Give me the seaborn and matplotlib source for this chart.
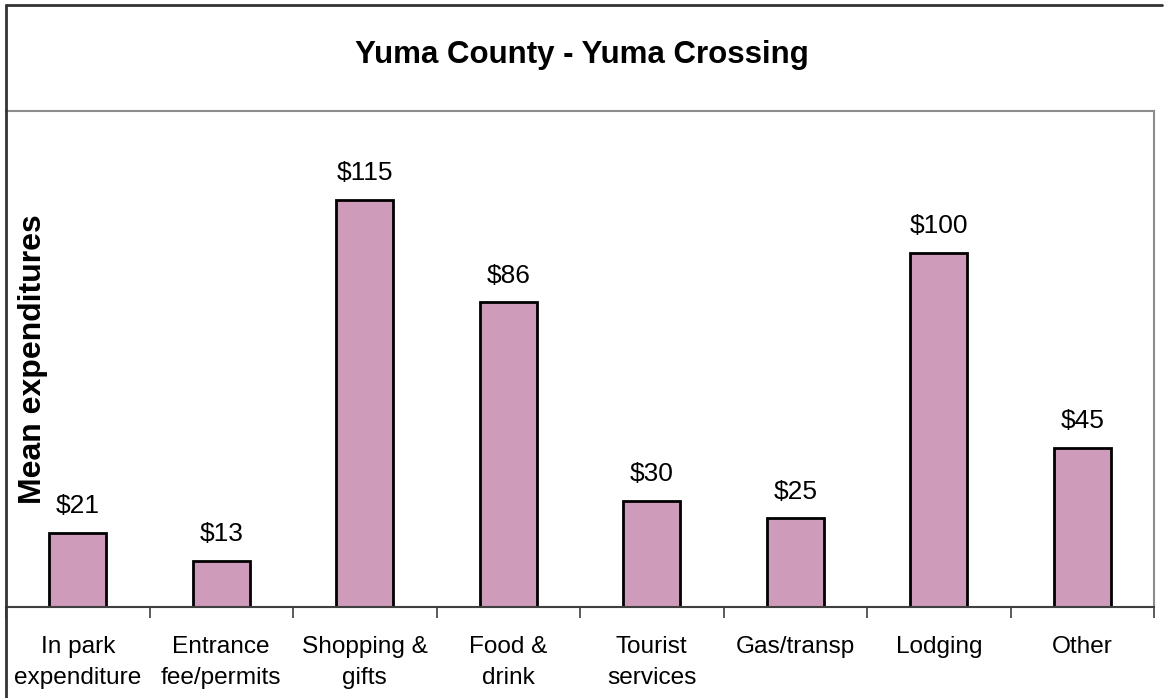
import matplotlib
matplotlib.use('Agg')
import matplotlib.pyplot as plt
from matplotlib.lines import Line2D
import seaborn as sns
import pandas as pd

# данные с картинки
categories = ['In park\nexpenditure', 'Entrance\nfee/permits', 'Shopping &\ngifts',
              'Food &\ndrink', 'Tourist\nservices', 'Gas/transp', 'Lodging', 'Other']
values = [21, 13, 115, 86, 30, 25, 100, 45]
value_labels = ['$21', '$13', '$115', '$86', '$30', '$25', '$100', '$45']

df = pd.DataFrame({'category': categories, 'value': values})

sns.set_theme(style='white')
plt.rcParams['font.family'] = ['Liberation Sans', 'DejaVu Sans']
plt.rcParams['text.color'] = 'black'

W, H = 1167, 698
fig = plt.figure(figsize=(W / 100, H / 100), dpi=100)
ax = fig.add_axes([6 / W, (H - 607) / H, 1148 / W, 496 / H])

sns.barplot(data=df, x='category', y='value', ax=ax, color='#cf9bbb',
            width=0.4, edgecolor='black', linewidth=2, saturation=1)

ax.set_xlim(-0.5, len(categories) - 0.5)
ax.set_ylim(0, 140)
ax.set_yticks([])
ax.set_xlabel('')
ax.set_ylabel('')

# подписи значений над столбиками
for i, (v, lab) in enumerate(zip(values, value_labels)):
    ax.annotate(lab, xy=(i, v), xytext=(0, 10.5), textcoords='offset points',
                ha='center', va='bottom', fontsize=19, color='black')

# засечки на границах категорий
ax.set_xticks([i + 0.5 for i in range(-1, len(categories))], minor=True)
ax.tick_params(axis='x', which='minor', length=8, width=1.2, color='#404040', direction='out', bottom=True)
ax.tick_params(axis='x', which='major', length=0, pad=21, labelsize=17.6, labelcolor='black')
for t in ax.get_xticklabels():
    t.set_linespacing(1.5)

ax.spines['left'].set_visible(False)
ax.spines['top'].set_color('#8c8c8c')
ax.spines['top'].set_linewidth(1.5)
ax.spines['right'].set_color('#8c8c8c')
ax.spines['right'].set_linewidth(1.5)
ax.spines['bottom'].set_color('#404040')
ax.spines['bottom'].set_linewidth(1.5)

# внешняя рамка (видны только верх и левый край)
fig.add_artist(Line2D([6 / W, 1162 / W], [1 - 5 / H, 1 - 5 / H], color='#333333', lw=2))
fig.add_artist(Line2D([6 / W, 6 / W], [0, 1 - 5 / H], color='#333333', lw=2))

fig.text(582 / W, 1 - 55 / H, 'Yuma County - Yuma Crossing', ha='center', va='center',
         fontsize=22.5, fontweight='bold', color='black')
fig.text(33 / W, 1 - 359 / H, 'Mean expenditures', ha='center', va='center',
         rotation=90, fontsize=23, fontweight='bold', color='black')

fig.savefig('out.png', dpi=100)
